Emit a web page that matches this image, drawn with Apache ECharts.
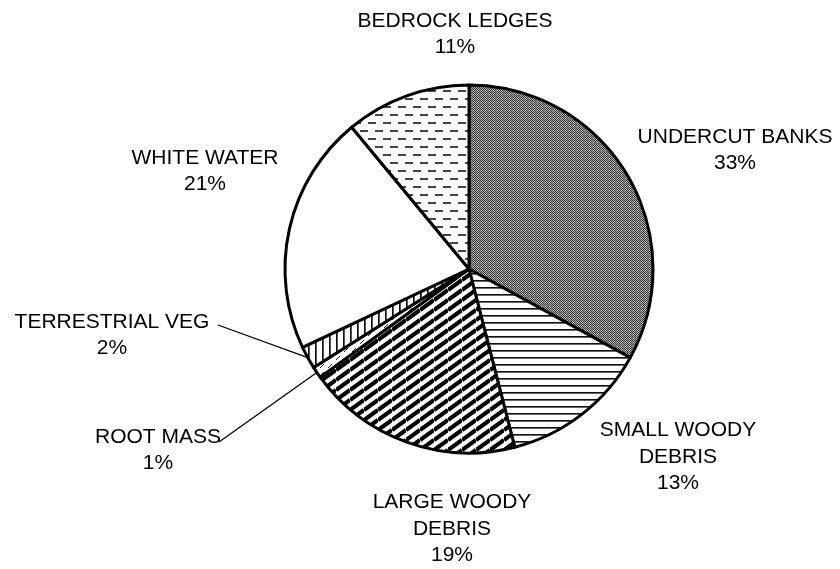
<!DOCTYPE html>
<html>
<head>
<meta charset="utf-8">
<title>Habitat cover types</title>
<script src="https://cdn.jsdelivr.net/npm/echarts@6/dist/echarts.min.js"></script>
<style>
  html, body { margin: 0; padding: 0; background: #fff; }
  #chart { width: 840px; height: 569px; }
</style>
</head>
<body>
<div id="chart"></div>
<script>
// Cover types, clockwise from 12 o'clock
const categories = [
  'UNDERCUT BANKS',
  'SMALL WOODY\nDEBRIS',
  'LARGE WOODY\nDEBRIS',
  'ROOT MASS',
  'TERRESTRIAL VEG',
  'WHITE WATER',
  'BEDROCK LEDGES'
];
// Share of total cover, percent
const shares = [33, 13, 19, 1, 2, 21, 11];

// Label block centres (pixels) and where the leader lines end
const labelCenters = [
  [735, 150], [678, 457], [452, 529], [158, 450], [112, 335], [205, 171], [455, 34]
];
const leaderEnds = { 3: [219, 442], 4: [218, 325] };

// ---- fill patterns -------------------------------------------------------
function tile(w, h, draw) {
  const c = document.createElement('canvas');
  c.width = w; c.height = h;
  const g = c.getContext('2d');
  g.fillStyle = '#fff';
  g.fillRect(0, 0, w, h);
  draw(g, w, h);
  return { image: c, repeat: 'repeat' };
}

// fine grey checker
const checker = tile(4, 4, (g) => {
  for (let y = 0; y < 4; y++) {
    for (let x = 0; x < 4; x++) {
      g.fillStyle = ((x + y) % 2 === 0) ? '#3a3a3a' : '#a8a8a8';
      g.fillRect(x, y, 1, 1);
    }
  }
  g.fillStyle = '#f0f0f0';
  g.fillRect(1, 2, 1, 1);
});

// horizontal lines
const hLines = tile(1, 7, (g) => {
  g.fillStyle = '#111';
  g.fillRect(0, 0, 1, 1);
  g.fillStyle = '#666';
  g.fillRect(0, 1, 1, 1);
});

// wide upward diagonal
const diag = tile(14, 10, (g, w, h) => {
  g.strokeStyle = '#000';
  g.lineWidth = 4.2;
  for (let k = -1; k <= 1; k++) {
    g.beginPath();
    g.moveTo(0, h + h * k);
    g.lineTo(w, h * k);
    g.stroke();
  }
});

// dashed diagonal
const dashedDiag = tile(8, 8, (g) => {
  g.strokeStyle = '#222';
  g.lineWidth = 1;
  g.beginPath();
  g.moveTo(0, 8);
  g.lineTo(4, 4);
  g.stroke();
});

// vertical lines
const vLines = tile(7, 1, (g) => {
  g.fillStyle = '#111';
  g.fillRect(0, 0, 1, 1);
  g.fillStyle = '#555';
  g.fillRect(1, 0, 1, 1);
});

// horizontal dashes, staggered rows
const dashes = tile(15, 16, (g) => {
  g.fillStyle = '#444';
  g.fillRect(0, 2, 8, 2);
  g.fillRect(8, 10, 7, 2);
  g.fillRect(0, 10, 1, 2);
});

const fills = [checker, hLines, diag, dashedDiag, vLines, '#ffffff', dashes];

// ---- chart ---------------------------------------------------------------
const chart = echarts.init(document.getElementById('chart'), null, { renderer: 'canvas' });

const pieData = categories.map((name, i) => ({
  name: name,
  value: shares[i],
  itemStyle: { color: fills[i] },
  labelLine: { show: leaderEnds[i] !== undefined }
}));

chart.setOption({
  backgroundColor: '#ffffff',
  animation: false,
  series: [{
    type: 'pie',
    center: [469, 269],
    radius: 184,
    startAngle: 90,
    clockwise: true,
    avoidLabelOverlap: false,
    itemStyle: { borderColor: '#000', borderWidth: 3 },
    emphasis: { disabled: true },
    label: {
      show: true,
      position: 'outside',
      formatter: (p) => p.name + '\n' + p.value + '%',
      color: '#000',
      fontFamily: 'Liberation Sans, Arial, sans-serif',
      fontSize: 21,
      lineHeight: 26.5,
      align: 'center'
    },
    labelLine: {
      lineStyle: { color: '#000', width: 1.3 },
      length: 10,
      length2: 10
    },
    labelLayout: (params) => {
      const i = params.dataIndex;
      const c = labelCenters[i];
      const out = { x: c[0], y: c[1], align: 'center', verticalAlign: 'middle' };
      const end = leaderEnds[i];
      if (end && params.labelLinePoints) {
        const start = params.labelLinePoints[0];
        out.labelLinePoints = [start, end, end];
      }
      return out;
    },
    data: pieData
  }]
});
</script>
</body>
</html>
